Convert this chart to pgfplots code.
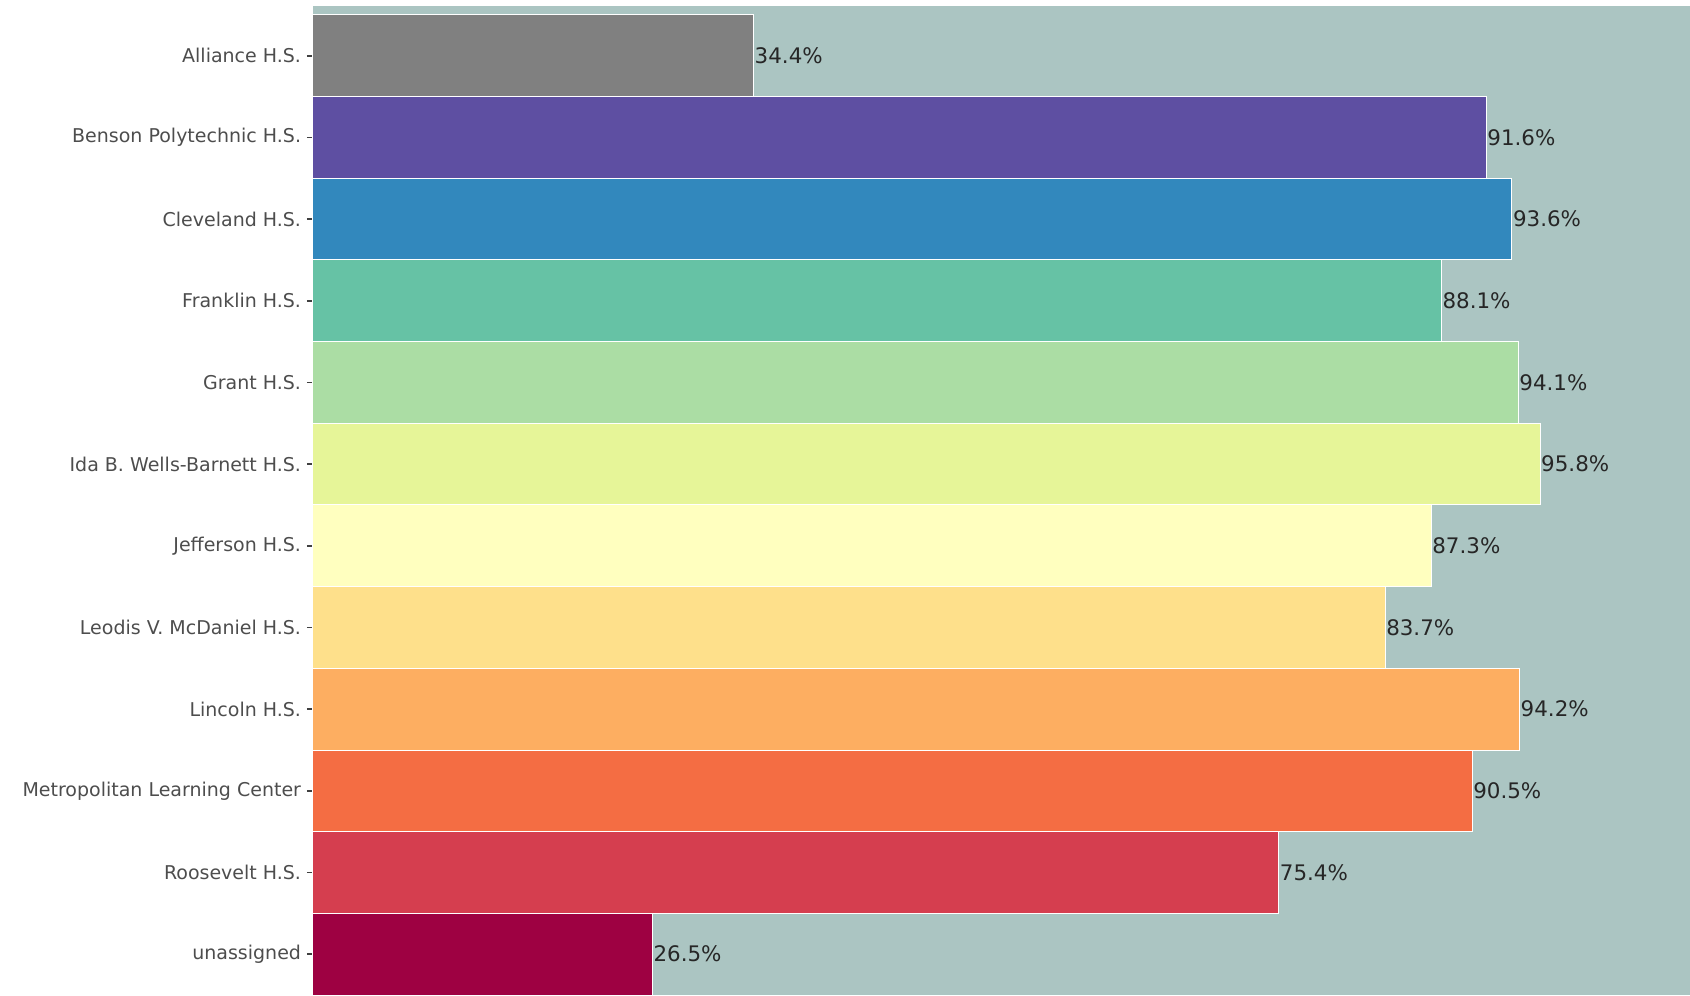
\documentclass[border=0pt]{standalone}
\usepackage{fontspec}
\setmainfont{DejaVu Sans}
\usepackage{pgfplots}
\pgfplotsset{compat=1.18}
\usetikzlibrary{calc}

\definecolor{bgcol}{HTML}{ABC5C2}
\definecolor{labcol}{HTML}{4D4D4D}
\definecolor{valcol}{HTML}{262626}
\definecolor{c0}{HTML}{808080}
\definecolor{c1}{HTML}{5E4FA2}
\definecolor{c2}{HTML}{3288BD}
\definecolor{c3}{HTML}{66C2A5}
\definecolor{c4}{HTML}{ABDDA4}
\definecolor{c5}{HTML}{E6F598}
\definecolor{c6}{HTML}{FFFFBF}
\definecolor{c7}{HTML}{FEE08B}
\definecolor{c8}{HTML}{FDAE61}
\definecolor{c9}{HTML}{F46D43}
\definecolor{c10}{HTML}{D53E4F}
\definecolor{c11}{HTML}{9E0142}

\begin{document}
\begin{tikzpicture}
\begin{axis}[
  name=ax,
  at={(0,0)}, anchor=south west,
  scale only axis,
  width=688.5pt, height=494.5pt,
  xmin=0, xmax=107.5,
  ymin=-0.61, ymax=11.5,
  y dir=reverse,
  xbar, bar width=1, bar shift=0pt,
  axis background/.style={fill=bgcol},
  axis line style={draw=none},
  xtick=\empty,
  ytick={0,...,11},
  yticklabels={Alliance H.S., Benson Polytechnic H.S., Cleveland H.S., Franklin H.S., Grant H.S., Ida B. Wells-Barnett H.S., Jefferson H.S., Leodis V. McDaniel H.S., Lincoln H.S., Metropolitan Learning Center, Roosevelt H.S., unassigned},
  yticklabel style={font=\fontsize{9.5}{11}\selectfont, text=labcol, inner sep=0pt, xshift=-2.8pt},
  tick align=outside,
  major tick length=3pt,
  y tick style={black!75, line width=0.9pt},
  /pgf/number format/assume math mode=true,
  nodes near coords={\pgfmathprintnumber[fixed,fixed zerofill,precision=1]{\pgfplotspointmeta}\%},
  nodes near coords style={font=\fontsize{10.7}{12}\selectfont, text=valcol, anchor=west, inner sep=0.3pt},
  every axis plot/.append style={draw=white, line width=0.5pt},
  clip=false,
]
\addplot[fill=c0] coordinates {(34.4,0)};
\addplot[fill=c1] coordinates {(91.6,1)};
\addplot[fill=c2] coordinates {(93.6,2)};
\addplot[fill=c3] coordinates {(88.1,3)};
\addplot[fill=c4] coordinates {(94.1,4)};
\addplot[fill=c5] coordinates {(95.8,5)};
\addplot[fill=c6] coordinates {(87.3,6)};
\addplot[fill=c7] coordinates {(83.7,7)};
\addplot[fill=c8] coordinates {(94.2,8)};
\addplot[fill=c9] coordinates {(90.5,9)};
\addplot[fill=c10] coordinates {(75.4,10)};
\addplot[fill=c11] coordinates {(26.5,11)};
\end{axis}
\pgfresetboundingbox
\path (ax.south west) ++(-156.5pt,0) rectangle ($(ax.north east)+(0,3pt)$);
\end{tikzpicture}
\end{document}
